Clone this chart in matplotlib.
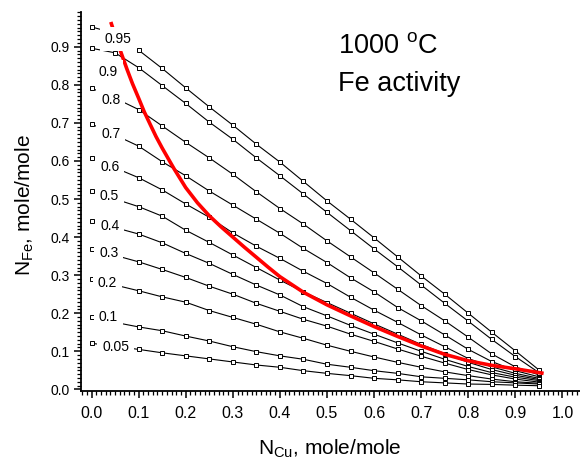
import matplotlib
matplotlib.use("Agg")
import matplotlib.pyplot as plt
from matplotlib.ticker import MultipleLocator

plt.rcParams['font.family'] = ['Liberation Sans', 'DejaVu Sans']
plt.rcParams['mathtext.fontset'] = 'custom'
plt.rcParams['mathtext.rm'] = 'Liberation Sans'
plt.rcParams['mathtext.it'] = 'Liberation Sans:italic'

# ---- data ----
n_cu = [0.00, 0.05, 0.10, 0.15, 0.20, 0.25, 0.30, 0.35, 0.40, 0.45,
        0.50, 0.55, 0.60, 0.65, 0.70, 0.75, 0.80, 0.85, 0.90, 0.95]

fe_095 = [0.952, 0.935, 0.891, 0.843, 0.792, 0.742, 0.694, 0.644, 0.597, 0.546,
          0.495, 0.447, 0.398, 0.348, 0.298, 0.250, 0.200, 0.150, 0.101, 0.051]
fe_09 = [0.896, 0.884, 0.845, 0.798, 0.751, 0.702, 0.657, 0.608, 0.561, 0.513,
         0.465, 0.417, 0.369, 0.322, 0.274, 0.226, 0.179, 0.131, 0.086, 0.044]
fe_08 = [0.791, 0.765, 0.735, 0.692, 0.649, 0.608, 0.565, 0.519, 0.475, 0.434,
         0.390, 0.348, 0.306, 0.263, 0.220, 0.180, 0.137, 0.093, 0.059, 0.038]
fe_07 = [0.697, 0.668, 0.639, 0.598, 0.561, 0.521, 0.484, 0.447, 0.410, 0.370,
         0.333, 0.293, 0.256, 0.215, 0.180, 0.143, 0.105, 0.073, 0.049, 0.033]
fe_06 = [0.608, 0.582, 0.556, 0.524, 0.487, 0.452, 0.411, 0.376, 0.344, 0.310,
         0.278, 0.242, 0.208, 0.176, 0.143, 0.112, 0.081, 0.059, 0.042, 0.029]
fe_05 = [0.521, 0.500, 0.480, 0.455, 0.418, 0.386, 0.353, 0.320, 0.287, 0.256,
         0.228, 0.200, 0.172, 0.145, 0.118, 0.094, 0.071, 0.052, 0.037, 0.026]
fe_04 = [0.443, 0.425, 0.408, 0.385, 0.357, 0.331, 0.302, 0.274, 0.248, 0.217,
         0.193, 0.168, 0.145, 0.122, 0.100, 0.079, 0.060, 0.044, 0.032, 0.023]
fe_03 = [0.369, 0.352, 0.335, 0.315, 0.294, 0.271, 0.250, 0.226, 0.205, 0.184,
         0.166, 0.145, 0.126, 0.106, 0.087, 0.069, 0.052, 0.038, 0.027, 0.019]
fe_02 = [0.290, 0.274, 0.259, 0.243, 0.229, 0.207, 0.189, 0.171, 0.151, 0.134,
         0.116, 0.100, 0.085, 0.071, 0.058, 0.046, 0.036, 0.027, 0.020, 0.016]
fe_01 = [0.189, 0.176, 0.164, 0.154, 0.140, 0.127, 0.112, 0.099, 0.088, 0.079,
         0.066, 0.058, 0.049, 0.042, 0.033, 0.029, 0.025, 0.020, 0.017, 0.014]
fe_005 = [0.121, 0.113, 0.105, 0.096, 0.088, 0.080, 0.072, 0.064, 0.058, 0.049,
          0.042, 0.036, 0.029, 0.025, 0.020, 0.017, 0.014, 0.013, 0.011, 0.0095]

iso_lines = [fe_095, fe_09, fe_08, fe_07, fe_06, fe_05, fe_04, fe_03, fe_02, fe_01, fe_005]
iso_labels = ["0.95", "0.9", "0.8", "0.7", "0.6", "0.5", "0.4", "0.3", "0.2", "0.1", "0.05"]
label_x = [0.057, 0.036, 0.041, 0.041, 0.039, 0.038, 0.039, 0.037, 0.034, 0.036, 0.051]
label_y = [0.920, 0.834, 0.760, 0.670, 0.585, 0.508, 0.429, 0.357, 0.280, 0.191, 0.112]

red_x = [0.041, 0.050, 0.062, 0.075, 0.087, 0.100, 0.112, 0.125, 0.137, 0.150, 0.175,
         0.200, 0.225, 0.250, 0.275, 0.300, 0.325, 0.350, 0.375, 0.400, 0.450, 0.500,
         0.550, 0.600, 0.650, 0.700, 0.750, 0.800, 0.850, 0.900, 0.960]
red_y = [0.965, 0.930, 0.887, 0.842, 0.803, 0.765, 0.729, 0.695, 0.664, 0.634, 0.580,
         0.530, 0.490, 0.456, 0.427, 0.400, 0.373, 0.347, 0.321, 0.296, 0.255, 0.222,
         0.193, 0.165, 0.139, 0.114, 0.092, 0.075, 0.063, 0.054, 0.042]

# ---- figure ----
W, H = 580, 467
fig = plt.figure(figsize=(W / 100, H / 100), dpi=100)
ax_left, ax_right, ax_top, ax_bottom = 81, 580, 11.7, 390.5
ax = fig.add_axes([ax_left / W, 1 - ax_bottom / H, (ax_right - ax_left) / W, (ax_bottom - ax_top) / H])

for vals in iso_lines:
    ax.plot(n_cu, vals, color='black', lw=0.8, marker='s', ms=3.0,
            mfc='white', mec='black', mew=0.7, zorder=2)

ax.plot(red_x, red_y, color='#ff0000', lw=2.6, zorder=3,
        solid_capstyle='butt', solid_joinstyle='round')

for t, lx, ly in zip(iso_labels, label_x, label_y):
    ax.text(lx, ly, t, fontsize=10, ha='center', va='center', zorder=5,
            bbox=dict(boxstyle='square,pad=0.35', fc='white', ec='none'))

ax.set_xlim(-0.0223, 1.0372)
ax.set_ylim(-0.003, 0.992)

for s in ['top', 'right']:
    ax.spines[s].set_visible(False)
for s in ['left', 'bottom']:
    ax.spines[s].set_linewidth(1.3)

ax.xaxis.set_minor_locator(MultipleLocator(0.01))
ax.yaxis.set_minor_locator(MultipleLocator(0.01))
ax.set_xticks([i / 10 for i in range(11)])
ax.set_xticklabels([f"{i/10:.1f}" for i in range(11)])
ax.set_yticks([i / 10 for i in range(10)])
ax.set_yticklabels([f"{i/10:.1f}" for i in range(10)])
ax.tick_params(which='major', direction='out', length=5, width=1.1)
ax.tick_params(which='minor', direction='out', length=3, width=0.9)
ax.tick_params(axis='x', which='major', labelsize=11.5, pad=6)
ax.tick_params(axis='y', which='major', labelsize=10, pad=3)

fig.text(330 / W, 1 - 455 / H, r"N$_{\mathrm{Cu}}$, mole/mole", fontsize=15,
         ha='center', va='baseline')
fig.text(25 / W, 1 - 205 / H, r"N$_{\mathrm{Fe}}$, mole/mole", fontsize=15,
         ha='center', va='center', rotation=90)

ax.text(338 / W, 1 - 53 / H, r"1000 $^{\mathrm{o}}$C", fontsize=19.5,
        transform=fig.transFigure, ha='left', va='baseline')
ax.text(338 / W, 1 - 91 / H, "Fe activity", fontsize=19.5,
        transform=fig.transFigure, ha='left', va='baseline')

fig.savefig("out.png", dpi=100)
